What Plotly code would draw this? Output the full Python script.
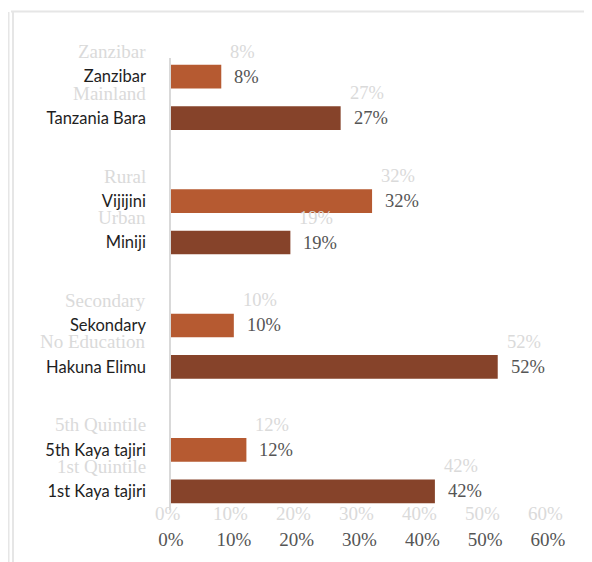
import plotly.graph_objects as go

# ---- data ----
categories = ["Zanzibar", "Tanzania Bara", "Vijijini", "Miniji",
              "Sekondary", "Hakuna Elimu", "5th Kaya tajiri", "1st Kaya tajiri"]
ghost_labels = ["Zanzibar", "Mainland", "Rural", "Urban",
                "Secondary", "No Education", "5th Quintile", "1st Quintile"]
values = [0.08, 0.27, 0.32, 0.19, 0.10, 0.52, 0.12, 0.42]
x_ticks = [0, 0.1, 0.2, 0.3, 0.4, 0.5, 0.6]
x_ticktext = ["0%", "10%", "20%", "30%", "40%", "50%", "60%"]

ORANGE = "#B65A31"
BROWN = "#86432A"

# categories come in pairs; leave a blank slot between pairs
ypos = [(i // 2) * 3 + (i % 2) for i in range(len(categories))]
colors = [ORANGE if i % 2 == 0 else BROWN for i in range(len(categories))]

OFF = 8  # page body margin
W, H = 592 - OFF, 562 - OFF
L, R, T, B = 171 - OFF, 44, 58 - OFF, 52
pw, ph = W - L - R, H - T - B

def px_x(p):
    return (p - OFF - L) / pw

def px_y(p):
    return (H - B - (p - OFF)) / ph

fig = go.Figure()
fig.add_trace(go.Bar(
    x=values, y=ypos, orientation="h",
    marker=dict(color=colors, line=dict(width=0)),
    width=0.57, hoverinfo="skip", showlegend=False,
))

ann = []
serif = "Liberation Serif, Times New Roman, serif"
GHOST = "#dadada"
for v, y, g in zip(values, ypos, ghost_labels):
    ann.append(dict(x=v, y=y, xref="x", yref="y", text=f"{round(v*100)}%",
                    showarrow=False, xanchor="left", xshift=11,
                    font=dict(family=serif, size=18.5, color="#555555")))
    ann.append(dict(x=v, y=y, xref="x", yref="y", text=f"{round(v*100)}%",
                    showarrow=False, xanchor="left", xshift=7, yshift=25,
                    font=dict(family=serif, size=18.5, color=GHOST)))
    ann.append(dict(x=px_x(148), y=y, xref="paper", yref="y", text=g,
                    showarrow=False, xanchor="right", yshift=25,
                    font=dict(family=serif, size=19, color=GHOST)))
for t, tt in zip(x_ticks, x_ticktext):
    ann.append(dict(x=t, y=px_y(513), xref="x", yref="paper", text=tt,
                    showarrow=False, xanchor="center", yanchor="middle", xshift=-3,
                    font=dict(family=serif, size=19, color=GHOST)))

shapes = [
    dict(type="line", xref="paper", yref="paper",
         x0=px_x(11), x1=px_x(600), y0=px_y(11.5), y1=px_y(11.5),
         line=dict(color="#e6e6e6", width=2)),
    dict(type="line", xref="paper", yref="paper",
         x0=px_x(8.5), x1=px_x(8.5), y0=px_y(12), y1=px_y(570),
         line=dict(color="#e6e6e6", width=2)),
    dict(type="line", xref="paper", yref="paper",
         x0=px_x(13), x1=px_x(13), y0=px_y(11), y1=px_y(570),
         line=dict(color="#e6e6e6", width=2)),
]

fig.update_layout(
    width=W, height=H,
    margin=dict(l=L, r=R, t=T, b=B, pad=0),
    paper_bgcolor="white", plot_bgcolor="white",
    annotations=ann, shapes=shapes,
    xaxis=dict(range=[0, 0.6], tickvals=x_ticks, ticktext=x_ticktext,
               showgrid=False, zeroline=False, showline=False,
               ticks="", ticklabelstandoff=16,
               tickfont=dict(family=serif, size=19, color="#555555")),
    yaxis=dict(range=[10.45, -0.45], tickvals=ypos, ticktext=categories,
               showgrid=False, zeroline=False,
               showline=True, linecolor="#d9d9d9", linewidth=1.5,
               ticks="", ticklabelstandoff=20,
               tickfont=dict(family="Lato, sans-serif", size=16.5, color="#1e1e1e")),
)

fig.write_html("out.html")
